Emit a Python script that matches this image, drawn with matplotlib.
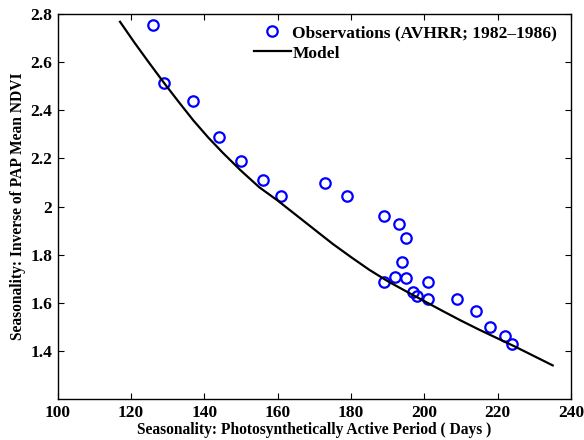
import matplotlib
matplotlib.use('Agg')
import matplotlib.pyplot as plt
from matplotlib.ticker import FormatStrFormatter

# Observed points (AVHRR 1982-1986)
obs_days = [126, 129, 137, 144, 150, 156, 161, 173, 179, 189, 193, 195, 194,
            192, 195, 189, 201, 197, 198, 201, 209, 214, 218, 222, 224]
obs_ndvi = [2.753, 2.515, 2.439, 2.290, 2.190, 2.110, 2.042, 2.096, 2.042,
            1.961, 1.928, 1.868, 1.770, 1.707, 1.704, 1.688, 1.685, 1.646,
            1.629, 1.617, 1.614, 1.565, 1.499, 1.463, 1.428]

# Model curve
model_days = [117, 121, 125, 129, 133, 137, 141, 145, 150, 155, 160, 165,
              170, 175, 180, 185, 190, 195, 200, 205, 210, 215, 220, 225,
              230, 235]
model_ndvi = [2.768, 2.680, 2.596, 2.514, 2.435, 2.358, 2.288, 2.224, 2.149,
              2.080, 2.025, 1.965, 1.905, 1.845, 1.790, 1.737, 1.690, 1.648,
              1.607, 1.566, 1.526, 1.488, 1.452, 1.416, 1.378, 1.340]

xticks = [100, 120, 140, 160, 180, 200, 220, 240]
yticks = [1.4, 1.6, 1.8, 2.0, 2.2, 2.4, 2.6, 2.8]

plt.rcParams['font.family'] = ['Liberation Serif', 'DejaVu Serif']
plt.rcParams['font.weight'] = 'bold'

fig = plt.figure(figsize=(5.84, 4.40), dpi=100)
ax = fig.add_axes([0.0988, 0.093, 0.879, 0.875])

ax.plot(obs_days, obs_ndvi, 'o', color='#0000ff', mfc='none', ms=7.5, mew=1.6,
        label='Observations (AVHRR; 1982\u20131986)')
ax.plot(model_days, model_ndvi, '-', color='k', lw=1.6, label='Model')

ax.set_xlim(100, 240)
ax.set_ylim(1.2, 2.8)
ax.set_xticks(xticks)
ax.set_yticks(yticks)
ax.yaxis.set_major_formatter(FormatStrFormatter('%g'))
ax.tick_params(direction='in', length=4, width=0.8, top=True, right=True,
               labelsize=12.5, pad=4)
for lab in ax.get_xticklabels() + ax.get_yticklabels():
    lab.set_fontweight('bold')
for s in ax.spines.values():
    s.set_linewidth(1.0)

ax.set_xlabel('Seasonality: Photosynthetically Active Period ( Days )',
              fontsize=11.2, fontweight='bold', labelpad=1)
ax.set_ylabel('Seasonality: Inverse of PAP Mean NDVI',
              fontsize=11.2, fontweight='bold', labelpad=3)

leg = ax.legend(loc='upper right', bbox_to_anchor=(1.0, 1.008), frameon=False,
                handlelength=2.1, handletextpad=0.1, borderaxespad=0.55,
                borderpad=0.25, labelspacing=0.25,
                prop={'weight': 'bold', 'size': 12.5})

fig.savefig('out.png', dpi=100)
